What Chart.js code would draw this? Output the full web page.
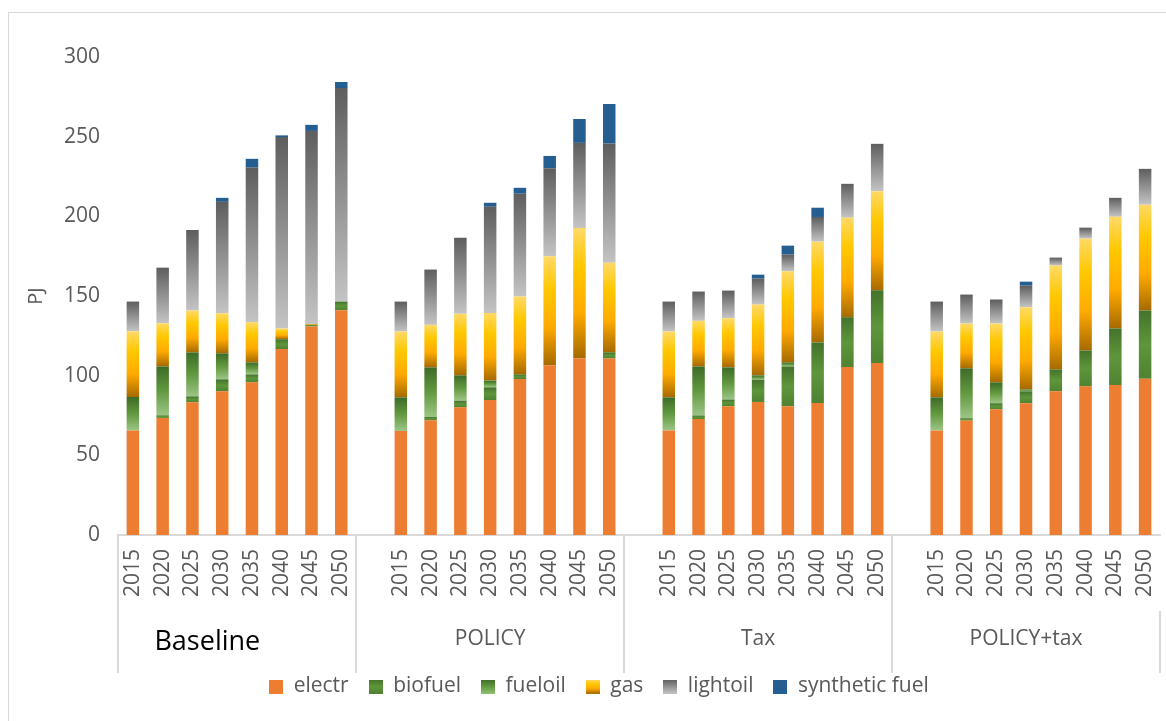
<!DOCTYPE html>
<html><head><meta charset="utf-8">
<script src="https://cdn.jsdelivr.net/npm/chart.js@4/dist/chart.umd.min.js"></script>
<style>
html,body{margin:0;padding:0;background:#fff;}
#wrap{position:relative;width:1166px;height:721px;overflow:hidden;}
#frame{position:absolute;left:8px;top:12px;width:1200px;height:800px;border:1px solid #D9D9D9;box-sizing:border-box;}
canvas{position:absolute;left:0;top:0;}
</style></head><body>
<div id="wrap"><div id="frame"></div><canvas id="c" width="1166" height="721"></canvas></div>
<script>
const scenarios = ['Baseline', 'POLICY', 'Tax', 'POLICY+tax'];
const years = ['2015', '2020', '2025', '2030', '2035', '2040', '2045', '2050'];
const yTicks = [0, 50, 100, 150, 200, 250, 300];

// PJ per year, scenarios in order: Baseline, POLICY, Tax, POLICY+tax
const electr = [
  65.6, 73.5, 83.3, 90.2, 95.8, 116.7, 130.9, 141.1,
  65.3, 72.0, 80.1, 84.7, 97.9, 106.6, 111.0, 110.8,
  65.6, 72.8, 80.8, 83.5, 80.8, 82.8, 105.4, 107.9,
  65.6, 71.8, 78.9, 82.7, 90.2, 93.3, 94.1, 98.1];
const biofuel = [
  0, 1.6, 3.7, 7.5, 5.0, 6.2, 1.0, 5.4,
  0, 2.1, 4.2, 8.0, 2.9, 0, 0, 3.8,
  0, 2.2, 4.2, 14.0, 25.0, 38.1, 31.3, 45.7,
  0, 1.5, 3.8, 7.5, 13.7, 22.5, 35.5, 42.8];
const fueloil = [
  21.0, 30.7, 27.6, 16.3, 7.5, 0, 0, 0,
  21.1, 31.1, 15.9, 4.2, 0, 0, 0, 0,
  20.8, 30.8, 20.2, 2.7, 2.5, 0, 0, 0,
  20.8, 31.3, 13.1, 1.2, 0, 0, 0, 0];
const gas = [
  41.3, 27.1, 26.3, 25.2, 25.3, 6.7, 0.5, 0,
  41.3, 26.7, 38.6, 42.5, 48.9, 68.3, 81.7, 56.2,
  41.3, 28.6, 30.9, 44.4, 57.2, 63.2, 62.4, 62.2,
  41.3, 28.1, 36.9, 51.6, 65.2, 70.2, 70.1, 66.4];
const lightoil = [
  18.6, 34.9, 50.5, 69.9, 97.0, 120.2, 121.2, 134.0,
  18.8, 34.7, 47.8, 66.6, 64.5, 55.3, 53.4, 74.9,
  18.8, 18.4, 17.3, 16.3, 10.5, 15.5, 21.3, 29.7,
  18.8, 18.2, 15.1, 13.5, 5.0, 6.9, 11.9, 22.5];
const syntheticFuel = [
  0, 0, 0, 2.5, 5.5, 1.0, 3.8, 3.8,
  0, 0, 0, 2.5, 3.7, 7.7, 15.0, 24.8,
  0, 0, 0, 2.5, 5.6, 5.8, 0, 0,
  0, 0, 0, 2.5, 0, 0, 0, 0];

const FONT = "'Open Sans', 'DejaVu Sans', sans-serif";
const GREY = '#595959';

// category labels with an empty gap slot before each later scenario
const labels = [];
scenarios.forEach((s, si) => { if (si > 0) labels.push(''); years.forEach(y => labels.push(y)); });
function expand(arr) {
  const out = [];
  scenarios.forEach((s, si) => {
    if (si > 0) out.push(null);
    for (let k = 0; k < years.length; k++) out.push(arr[si * years.length + k]);
  });
  return out;
}
// boundaries on the category axis; group axis uses half-category steps (2 slots per category)
const boundaryIdx = [];
const halfCenters = [];
const halfBounds = [0];
{
  let pos = 0;
  scenarios.forEach((s, si) => {
    const start = pos;
    boundaryIdx.push(pos);
    pos += (si > 0 ? 1 : 0) + years.length;
    halfCenters.push(start + pos);
    halfBounds.push(2 * pos);
  });
  boundaryIdx.push(pos);
}
halfCenters[0] -= 2; // the first group label sits a little left of centre, as in the original
const groupLabels = [];
for (let k = 0; k <= 2 * labels.length; k++) {
  const i = halfCenters.indexOf(k);
  groupLabels.push(i >= 0 ? scenarios[i] : '');
}

function gradFill(stops, solid) {
  return function (ctx) {
    if (ctx.type !== 'data') return solid;
    const chart = ctx.chart, ys = chart.scales && chart.scales.y;
    if (!ys || !chart.chartArea) return solid;
    const di = ctx.dataIndex, dsi = ctx.datasetIndex;
    const v = chart.data.datasets[dsi].data[di];
    if (!v) return solid;
    let base = 0;
    for (let k = 0; k < dsi; k++) base += chart.data.datasets[k].data[di] || 0;
    const y0 = ys.getPixelForValue(base + v), y1 = ys.getPixelForValue(base);
    if (!isFinite(y0) || !isFinite(y1) || Math.abs(y1 - y0) < 0.5) return solid;
    const g = chart.ctx.createLinearGradient(0, y0, 0, y1);
    stops.forEach(([o, c]) => g.addColorStop(o, c));
    return g;
  };
}
function legendIcon(stops, solid) {
  const c = document.createElement('canvas');
  c.width = 14; c.height = 14;
  const x = c.getContext('2d');
  if (stops) {
    const g = x.createLinearGradient(0, 0, 0, 14);
    stops.forEach(([o, col]) => g.addColorStop(o, col));
    x.fillStyle = g;
  } else x.fillStyle = solid;
  x.fillRect(0, 0, 14, 14);
  return c;
}

const stopsBio = [[0, '#44722B'], [0.5, '#5E963B'], [1, '#4F8232']];
const stopsFuel = [[0, '#3D6B28'], [0.5, '#62993F'], [1, '#9CC586']];
const stopsGas = [[0, '#FFD966'], [0.3, '#FFC800'], [0.65, '#FFAA00'], [1, '#A66A00']];
const stopsLight = [[0, '#5E5E5E'], [1, '#C4C4C4']];

const series = [
  { label: 'electr', data: electr, bg: '#ED7D31', icon: legendIcon(null, '#ED7D31') },
  { label: 'biofuel', data: biofuel, bg: gradFill(stopsBio, '#4E7D32'), icon: legendIcon(stopsBio) },
  { label: 'fueloil', data: fueloil, bg: gradFill(stopsFuel, '#62993F'), icon: legendIcon([[0, '#3D6B28'], [0.5, '#62993F'], [1, '#8FBF73']]) },
  { label: 'gas', data: gas, bg: gradFill(stopsGas, '#FFC000'), icon: legendIcon(stopsGas) },
  { label: 'lightoil', data: lightoil, bg: gradFill(stopsLight, '#A5A5A5'), icon: legendIcon(stopsLight) },
  { label: 'synthetic fuel', data: syntheticFuel, bg: '#255E91', icon: legendIcon(null, '#255E91') }
];

new Chart(document.getElementById('c'), {
  type: 'bar',
  data: {
    labels: labels,
    datasets: series.map(s => ({
      label: s.label,
      data: expand(s.data),
      backgroundColor: s.bg,
      borderWidth: 0,
      barPercentage: 0.42,
      categoryPercentage: 1.0
    }))
  },
  options: {
    responsive: false,
    animation: false,
    devicePixelRatio: 1,
    layout: { padding: { top: 57, left: 38, right: 6, bottom: 14 } },
    plugins: {
      tooltip: { enabled: false },
      legend: {
        position: 'bottom',
        labels: {
          boxWidth: 14, boxHeight: 14, padding: 20, color: GREY, font: { family: FONT, size: 21 },
          usePointStyle: true,
          generateLabels: chart => {
            const items = Chart.defaults.plugins.legend.labels.generateLabels(chart);
            items.forEach((it, i) => { it.pointStyle = series[i].icon; it.lineWidth = 0; it.strokeStyle = 'rgba(0,0,0,0)'; });
            return items;
          }
        }
      }
    },
    scales: {
      x: {
        type: 'category',
        stacked: true,
        weight: 1,
        grid: {
          offset: true, drawOnChartArea: false, drawTicks: true, tickLength: 76, lineWidth: 2,
          color: c => boundaryIdx.includes(c.index) ? '#D9D9D9' : 'rgba(0,0,0,0)'
        },
        border: { display: true, color: '#D9D9D9', width: 2 },
        ticks: { autoSkip: false, minRotation: 90, maxRotation: 90, padding: -62, color: GREY, font: { family: FONT, size: 21 } },
        afterFit: s => { s.height = 76; s.paddingLeft = 0; s.paddingRight = 0; }
      },
      g: {
        type: 'category',
        position: 'bottom',
        labels: groupLabels,
        offset: false,
        weight: 2,
        grid: {
          offset: false, drawOnChartArea: false, drawTicks: true, tickLength: 62, lineWidth: 2,
          color: c => halfBounds.includes(c.index) ? '#D9D9D9' : 'rgba(0,0,0,0)'
        },
        border: { display: false },
        ticks: {
          autoSkip: false, maxRotation: 0, minRotation: 0, padding: -47,
          color: c => c.index === halfCenters[0] ? '#000000' : GREY,
          font: c => c.index === halfCenters[0] ? { family: FONT, size: 27 } : { family: FONT, size: 21 }
        },
        afterFit: s => { s.height = 45; s.paddingLeft = 0; s.paddingRight = 0; }
      },
      y: {
        stacked: true,
        min: yTicks[0],
        max: yTicks[yTicks.length - 1],
        afterBuildTicks: s => { s.ticks = yTicks.map(v => ({ value: v })); },
        grid: { display: false, drawTicks: false },
        border: { display: false },
        ticks: { padding: 18, color: GREY, font: { family: FONT, size: 21 } },
        title: { display: true, text: 'PJ', color: GREY, font: { family: FONT, size: 20 }, padding: { top: -14, bottom: 4 } },
        afterFit: s => { s.width = 80; }
      }
    }
  }
});
</script>
</body></html>
